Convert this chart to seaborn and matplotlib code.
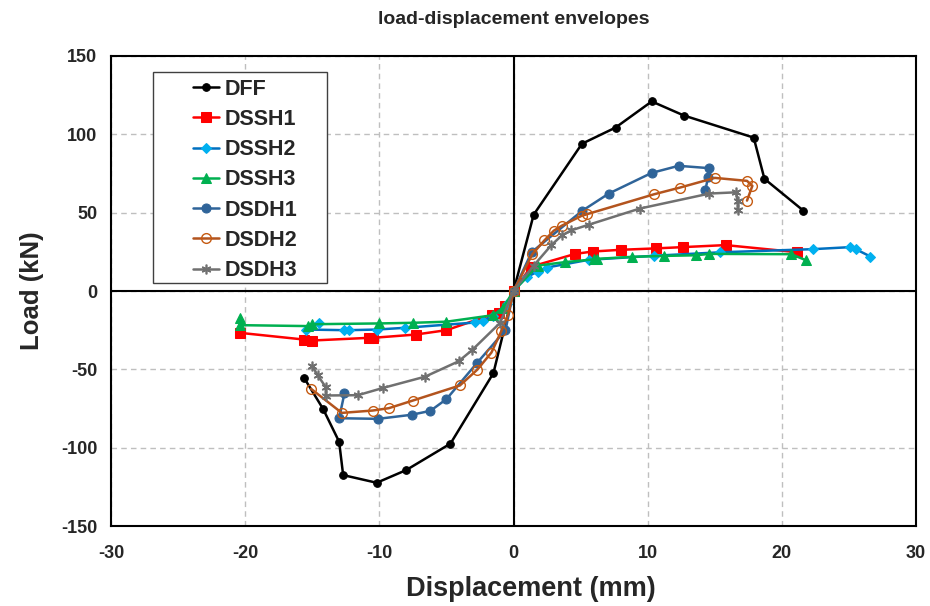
import matplotlib
matplotlib.use("Agg")
import matplotlib.pyplot as plt
from matplotlib.patches import Rectangle
import seaborn as sns
import pandas as pd

# Envelope curves: displacement (mm) and load (kN), ordered from the negative end to the positive end
dff_x = [-15.6, -14.2, -13.0, -12.7, -10.2, -8.0, -4.7, -1.5, 0, 1.5, 5.1, 7.6, 10.3, 12.7, 17.9, 18.7, 21.6]
dff_y = [-55.6, -75.2, -96.2, -117.5, -122.4, -114.3, -97.4, -52.4, 0, 48.7, 94.0, 104.3, 121.0, 112.0, 97.9, 71.6, 51.3]

dssh1_x = [-20.4, -15.6, -15.0, -10.8, -10.5, -7.3, -5.0, -1.6, -1.1, -0.6, 0, 1.3, 4.6, 5.9, 8.0, 10.6, 12.6, 15.8, 21.1]
dssh1_y = [-26.7, -31.0, -31.6, -29.9, -29.9, -27.8, -25.0, -15.0, -14.3, -9.6, 0, 15.5, 23.7, 25.2, 26.3, 27.2, 28.0, 29.3, 24.8]

dssh2_x = [-14.5, -15.5, -12.6, -12.3, -10.2, -8.1, -2.85, -2.3, -1.5, -0.5, 0, 1.0, 1.8, 2.5, 5.6, 10.5, 15.4, 22.3, 25.1, 25.5, 26.6]
dssh2_y = [-20.3, -24.6, -25.0, -25.0, -24.6, -23.5, -20.1, -19.0, -16.0, -8.0, 0, 9.0, 12.4, 15.0, 19.9, 22.5, 24.7, 26.7, 28.0, 26.7, 22.0]

dssh3_x = [-20.4, -20.4, -15.3, -15.0, -10.0, -7.5, -5.0, -1.5, -0.8, 0, 1.8, 3.8, 6.0, 6.2, 8.8, 11.2, 13.6, 14.6, 20.7, 21.8]
dssh3_y = [-17.5, -21.8, -22.4, -21.2, -20.7, -20.3, -19.6, -15.4, -11.0, 0, 16.2, 18.4, 20.2, 20.5, 21.8, 22.4, 22.8, 23.7, 23.5, 19.6]

dsdh1_x = [-12.6, -13.0, -10.1, -7.6, -6.2, -5.0, -2.7, -0.6, 0, 1.35, 5.1, 7.1, 10.3, 12.3, 14.6, 14.5, 14.3]
dsdh1_y = [-65.2, -81.2, -81.6, -79.0, -76.5, -69.0, -45.7, -25.0, 0, 24.8, 51.1, 62.2, 75.4, 79.9, 78.4, 72.9, 64.3]

dsdh2_x = [-15.1, -12.8, -10.5, -9.3, -7.5, -4.0, -2.7, -1.65, -0.9, -0.4, 0, 1.4, 2.3, 3.0, 3.6, 5.1, 5.5, 10.5, 12.4, 15.0, 17.4, 17.8, 17.4]
dsdh2_y = [-62.4, -77.8, -76.3, -74.8, -69.9, -60.3, -50.2, -39.3, -25.4, -15.0, 0, 23.5, 32.3, 38.5, 41.7, 48.1, 49.1, 61.8, 66.0, 72.2, 70.3, 67.1, 57.7]

dsdh3_x = [-15.0, -14.6, -14.0, -14.0, -11.6, -9.7, -6.6, -4.1, -3.1, -1.0, 0, 1.5, 2.8, 3.6, 4.3, 5.6, 9.4, 14.6, 16.6, 16.7, 16.7]
dsdh3_y = [-47.9, -53.8, -61.3, -66.7, -66.5, -61.8, -54.7, -44.9, -37.8, -20.3, 0, 16.2, 29.1, 35.5, 38.7, 42.3, 52.6, 62.2, 63.0, 57.3, 51.5]

x_ticks = [-30, -20, -10, 0, 10, 20, 30]
y_ticks = [-150, -100, -50, 0, 50, 100, 150]

sns.set_style("white")
plt.rcParams["font.family"] = ["Liberation Sans", "DejaVu Sans"]
plt.rcParams["font.weight"] = "bold"
plt.rcParams["axes.unicode_minus"] = False

fig = plt.figure(figsize=(9.3, 6.06), dpi=100)
ax = fig.add_axes([0.1194, 0.132, 0.8656, 0.7756])

series = [
    ("DFF", dff_x, dff_y, dict(color="black", marker="o", markersize=5.5,
                                markerfacecolor="black", markeredgecolor="black")),
    ("DSSH1", dssh1_x, dssh1_y, dict(color="#FF0000", marker="s", markersize=6.5,
                                      markerfacecolor="#FF0000", markeredgecolor="#FF0000")),
    ("DSSH2", dssh2_x, dssh2_y, dict(color="#0070C0", marker="D", markersize=5.5,
                                      markerfacecolor="#00B0F0", markeredgecolor="#00B0F0")),
    ("DSSH3", dssh3_x, dssh3_y, dict(color="#00B050", marker="^", markersize=7,
                                      markerfacecolor="#00B050", markeredgecolor="#00B050")),
    ("DSDH1", dsdh1_x, dsdh1_y, dict(color="#2F6499", marker="o", markersize=6.5,
                                      markerfacecolor="#2F6499", markeredgecolor="#2F6499")),
    ("DSDH2", dsdh2_x, dsdh2_y, dict(color="#B3541E", marker="o", markersize=7,
                                      markerfacecolor="none", markeredgecolor="#C55A11",
                                      markeredgewidth=1.0)),
    ("DSDH3", dsdh3_x, dsdh3_y, dict(color="#707070", marker=(6, 2, 0), markersize=7,
                                      markeredgecolor="#707070", markeredgewidth=1.2)),
]

for name, xs, ys, style in series:
    df = pd.DataFrame({"Displacement": xs, "Load": ys})
    sns.lineplot(data=df, x="Displacement", y="Load", sort=False, estimator=None,
                 ax=ax, label=name, linewidth=1.8, zorder=3, **style)

ax.set_xlim(-30, 30)
ax.set_ylim(-150, 150)
ax.set_xticks(x_ticks)
ax.set_yticks(y_ticks)
ax.tick_params(axis="y", length=0, labelsize=13, pad=10)
ax.tick_params(axis="x", length=0, labelsize=13, pad=14)
for lbl in ax.get_xticklabels() + ax.get_yticklabels():
    lbl.set_fontweight("bold")

ax.grid(True, color="#BFBFBF", linestyle=(0, (4, 3)), linewidth=1.0)
ax.axhline(0, color="black", linewidth=1.5, zorder=2)
ax.axvline(0, color="black", linewidth=1.5, zorder=2)
for sp in ax.spines.values():
    sp.set_color("black")
    sp.set_linewidth(1.5)

ax.set_xlabel("Displacement (mm)", fontsize=19.5, fontweight="bold")
ax.xaxis.set_label_coords(0.521, -0.106)
ax.set_ylabel("Load (kN)", fontsize=18.5, fontweight="bold", labelpad=12)
ax.set_title("load-displacement envelopes", fontsize=14, fontweight="bold", pad=23)

# Legend entries without their own frame; the box is drawn separately with wide left padding
leg = ax.legend(loc="upper left", bbox_to_anchor=(0.102, 0.952), frameon=False,
                prop={"size": 15.5, "weight": "bold"},
                handlelength=1.2, handletextpad=0.25, labelspacing=0.43,
                borderpad=0, borderaxespad=0)
ax.add_patch(Rectangle((0.0522, 0.517), 0.2165, 0.449, transform=ax.transAxes,
                       facecolor="white", edgecolor="#404040", linewidth=1.0, zorder=4))
leg.set_zorder(5)

fig.savefig("out.png", dpi=100)
